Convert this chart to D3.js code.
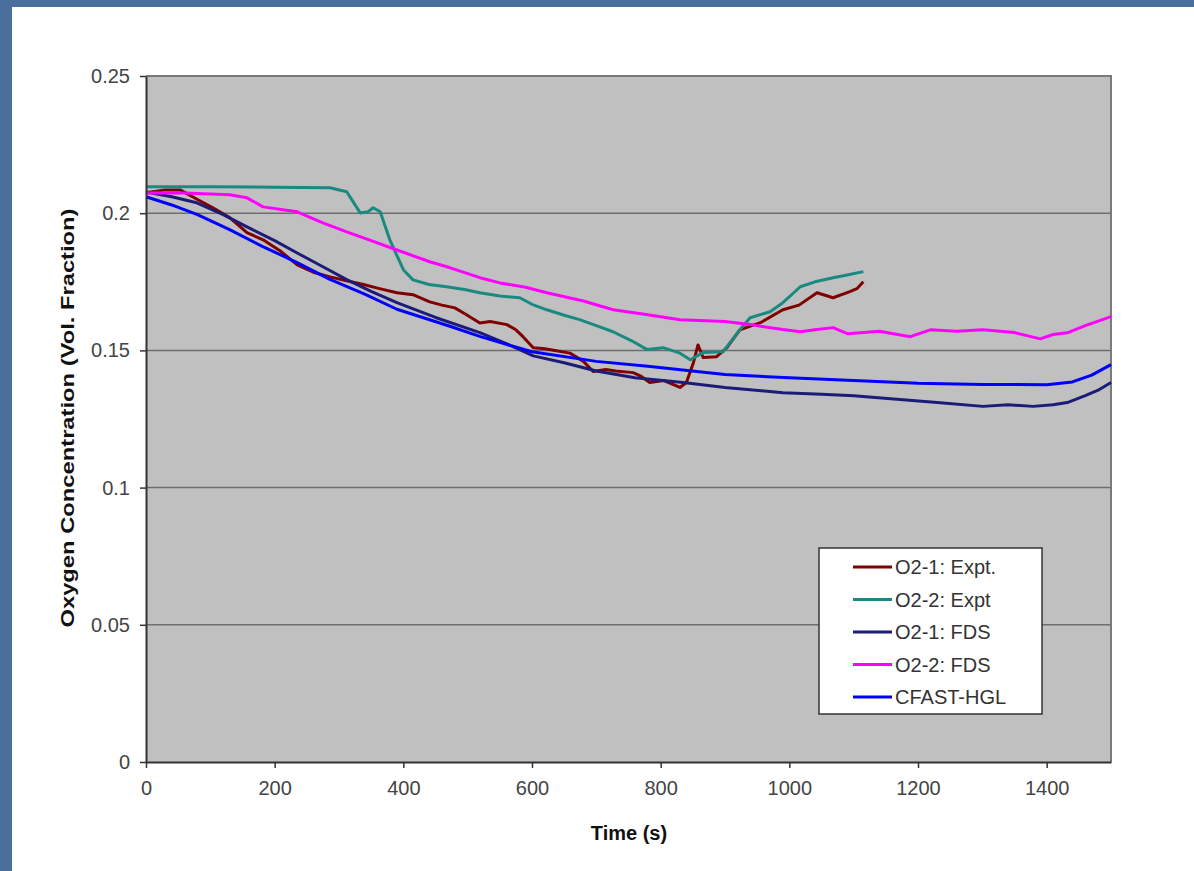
<!DOCTYPE html>
<html>
<head>
<meta charset="utf-8">
<script src="https://cdn.jsdelivr.net/npm/d3@7"></script>
<style>
  body { margin: 0; background: #4b6f9c; }
  text { font-family: "Liberation Sans", Arial, sans-serif; }
</style>
</head>
<body>
<div class="chart"></div>
<script>
// data: [time (s), O2 fraction]
const o2_1_expt = [[0,0.2075],[30,0.2085],[53,0.2085],[80,0.205],[104,0.202],[130,0.1984],[157,0.1929],[182,0.1903],[210,0.186],[235,0.1812],[260,0.1785],[286,0.1768],[310,0.1755],[338,0.174],[363,0.1725],[390,0.171],[415,0.1703],[441,0.1677],[460,0.1665],[480,0.1655],[493,0.1637],[519,0.160],[535,0.1605],[561,0.1594],[575,0.1575],[586,0.155],[602,0.151],[620,0.1506],[640,0.1498],[659,0.149],[680,0.146],[695,0.1423],[715,0.143],[730,0.1425],[757,0.1419],[770,0.1405],[783,0.1383],[805,0.139],[830,0.1365],[840,0.1383],[851,0.1456],[858,0.152],[866,0.1474],[887,0.1477],[903,0.151],[923,0.1575],[955,0.1601],[990,0.1648],[1015,0.1665],[1043,0.171],[1068,0.1692],[1094,0.1714],[1105,0.1725],[1115,0.175]];
const o2_2_expt = [[0,0.2096],[100,0.2096],[200,0.2095],[286,0.2093],[312,0.2078],[333,0.2001],[345,0.2005],[353,0.202],[364,0.2005],[379,0.1903],[400,0.1794],[415,0.1757],[440,0.174],[467,0.1732],[495,0.1722],[519,0.171],[550,0.1698],[581,0.1692],[600,0.1668],[623,0.1648],[650,0.1628],[674,0.1612],[700,0.159],[726,0.1568],[755,0.1535],[779,0.1503],[804,0.151],[830,0.149],[846,0.1466],[866,0.1492],[897,0.1495],[923,0.1575],[939,0.1619],[970,0.1641],[990,0.1674],[1017,0.1732],[1040,0.175],[1068,0.1765],[1090,0.1775],[1115,0.1787]];
const o2_1_fds = [[0,0.2077],[40,0.206],[79,0.2038],[120,0.1995],[157,0.195],[200,0.19],[235,0.1855],[275,0.1805],[312,0.1758],[350,0.1715],[390,0.1674],[450,0.162],[519,0.1565],[560,0.1525],[602,0.148],[650,0.1455],[700,0.1425],[760,0.14],[835,0.1383],[900,0.1365],[990,0.1346],[1050,0.134],[1100,0.1335],[1172,0.1321],[1230,0.131],[1301,0.1296],[1340,0.1302],[1379,0.1296],[1410,0.1302],[1432,0.131],[1460,0.1335],[1480,0.1355],[1500,0.1383]];
const o2_2_fds = [[0,0.2074],[60,0.2074],[130,0.2067],[157,0.2056],[182,0.2023],[235,0.2005],[275,0.1965],[312,0.1932],[350,0.19],[390,0.1866],[441,0.1823],[473,0.1801],[519,0.1765],[550,0.1746],[590,0.173],[623,0.171],[680,0.168],[726,0.1648],[780,0.163],[830,0.1612],[900,0.1605],[939,0.1594],[990,0.1576],[1017,0.1568],[1043,0.1576],[1068,0.1583],[1090,0.1561],[1140,0.157],[1188,0.155],[1219,0.1575],[1260,0.157],[1301,0.1575],[1350,0.1565],[1390,0.1542],[1410,0.1558],[1432,0.1564],[1460,0.159],[1500,0.1623]];
const cfast_hgl = [[0,0.206],[40,0.203],[80,0.1995],[130,0.194],[180,0.188],[235,0.182],[285,0.176],[340,0.1705],[390,0.165],[470,0.159],[520,0.155],[600,0.1495],[700,0.146],[780,0.1442],[900,0.1412],[1000,0.14],[1100,0.139],[1200,0.138],[1300,0.1376],[1400,0.1375],[1440,0.1385],[1470,0.141],[1500,0.1448]];

const seriesNames = ["O2-1: Expt.", "O2-2: Expt", "O2-1: FDS", "O2-2: FDS", "CFAST-HGL"];
const seriesColors = ["#800000", "#1a8a80", "#1c1c78", "#ff00ff", "#0000ff"];
const seriesData = [o2_1_expt, o2_2_expt, o2_1_fds, o2_2_fds, cfast_hgl];

const xTicks = [0, 200, 400, 600, 800, 1000, 1200, 1400];
const yTicks = [0, 0.05, 0.1, 0.15, 0.2, 0.25];
const yTickLabels = ["0", "0.05", "0.1", "0.15", "0.2", "0.25"];

// SVG and margin
const W = 1194, H = 871;
const margin = ({top: 76, right: 83, bottom: 109, left: 146});
const width = W - margin.left - margin.right,
    height = H - margin.top - margin.bottom;

const root = d3.select(".chart").append("svg")
    .attr("width", W)
    .attr("height", H)
    .style("display", "block");

// slide panel
root.append("rect").attr("x", 0).attr("y", 0).attr("width", W).attr("height", H).attr("fill", "#4b6f9c");
root.append("rect").attr("x", 12).attr("y", 7).attr("width", W - 12).attr("height", H - 7).attr("fill", "#ffffff");

const svg = root.append("g")
    .attr("transform", "translate(" + margin.left + "," + margin.top + ")");

// Scaling
const xScale = d3.scaleLinear().domain([0, 1500]).range([0, width]);
const yScale = d3.scaleLinear().domain([0, 0.25]).range([height, 0]);

svg.append("rect")
    .attr("width", width)
    .attr("height", height)
    .attr("fill", "#c0c0c0");

// gridlines
svg.selectAll(".grid")
    .data(yTicks.slice(1, -1))
    .enter().append("line")
    .attr("x1", 0).attr("x2", width)
    .attr("y1", d => yScale(d)).attr("y2", d => yScale(d))
    .attr("stroke", "#6e6e6e")
    .attr("stroke-width", 1.5);

// plot border top/right
svg.append("path")
    .attr("d", "M0,0H" + width + "V" + height)
    .attr("fill", "none")
    .attr("stroke", "#7a7a7a")
    .attr("stroke-width", 2);

// lines
const line = d3.line().x(d => xScale(d[0])).y(d => yScale(d[1]));
svg.selectAll(".series")
    .data(seriesData)
    .enter().append("path")
    .attr("class", "series")
    .attr("d", line)
    .attr("fill", "none")
    .attr("stroke", (d, i) => seriesColors[i])
    .attr("stroke-width", 3)
    .attr("stroke-linejoin", "round");

// Axis
const xAxis = d3.axisBottom(xScale).tickValues(xTicks).tickSize(6).tickPadding(13).tickSizeOuter(0)
    .tickFormat(d3.format("d"));
const yAxis = d3.axisLeft(yScale).tickValues(yTicks).tickSize(6).tickPadding(10).tickSizeOuter(0)
    .tickFormat((d, i) => yTickLabels[i]);

const gx = svg.append("g").attr("transform", "translate(0," + height + ")").call(xAxis);
const gy = svg.append("g").call(yAxis);
[gx, gy].forEach(g => {
  g.select(".domain").attr("stroke", "#333").attr("stroke-width", 2);
  g.selectAll(".tick line").attr("stroke", "#333").attr("stroke-width", 1.5);
  g.selectAll(".tick text").attr("fill", "#444").attr("font-size", 20);
});

// Axis Labels
root.append("text")
    .attr("x", 629).attr("y", 840)
    .attr("text-anchor", "middle")
    .attr("font-size", 20).attr("font-weight", "bold").attr("fill", "#111")
    .text("Time (s)");

root.append("text")
    .attr("transform", "translate(74,418) rotate(-90)")
    .attr("text-anchor", "middle")
    .attr("font-size", 19).attr("font-weight", "bold").attr("fill", "#111")
    .attr("textLength", 419).attr("lengthAdjust", "spacingAndGlyphs")
    .text("Oxygen Concentration (Vol. Fraction)");

// legend
const legend = root.append("g").attr("transform", "translate(819,548)");
legend.append("rect")
    .attr("width", 223).attr("height", 166)
    .attr("fill", "#fff").attr("stroke", "#333").attr("stroke-width", 1.5);
const item = legend.selectAll(".item")
    .data(seriesNames)
    .enter().append("g")
    .attr("transform", (d, i) => "translate(0," + (19 + i * 32.5) + ")");
item.append("line")
    .attr("x1", 34).attr("x2", 73)
    .attr("stroke", (d, i) => seriesColors[i])
    .attr("stroke-width", 3);
item.append("text")
    .attr("x", 76).attr("dy", "0.36em")
    .attr("font-size", 20).attr("fill", "#333")
    .text(d => d);
</script>
</body>
</html>
